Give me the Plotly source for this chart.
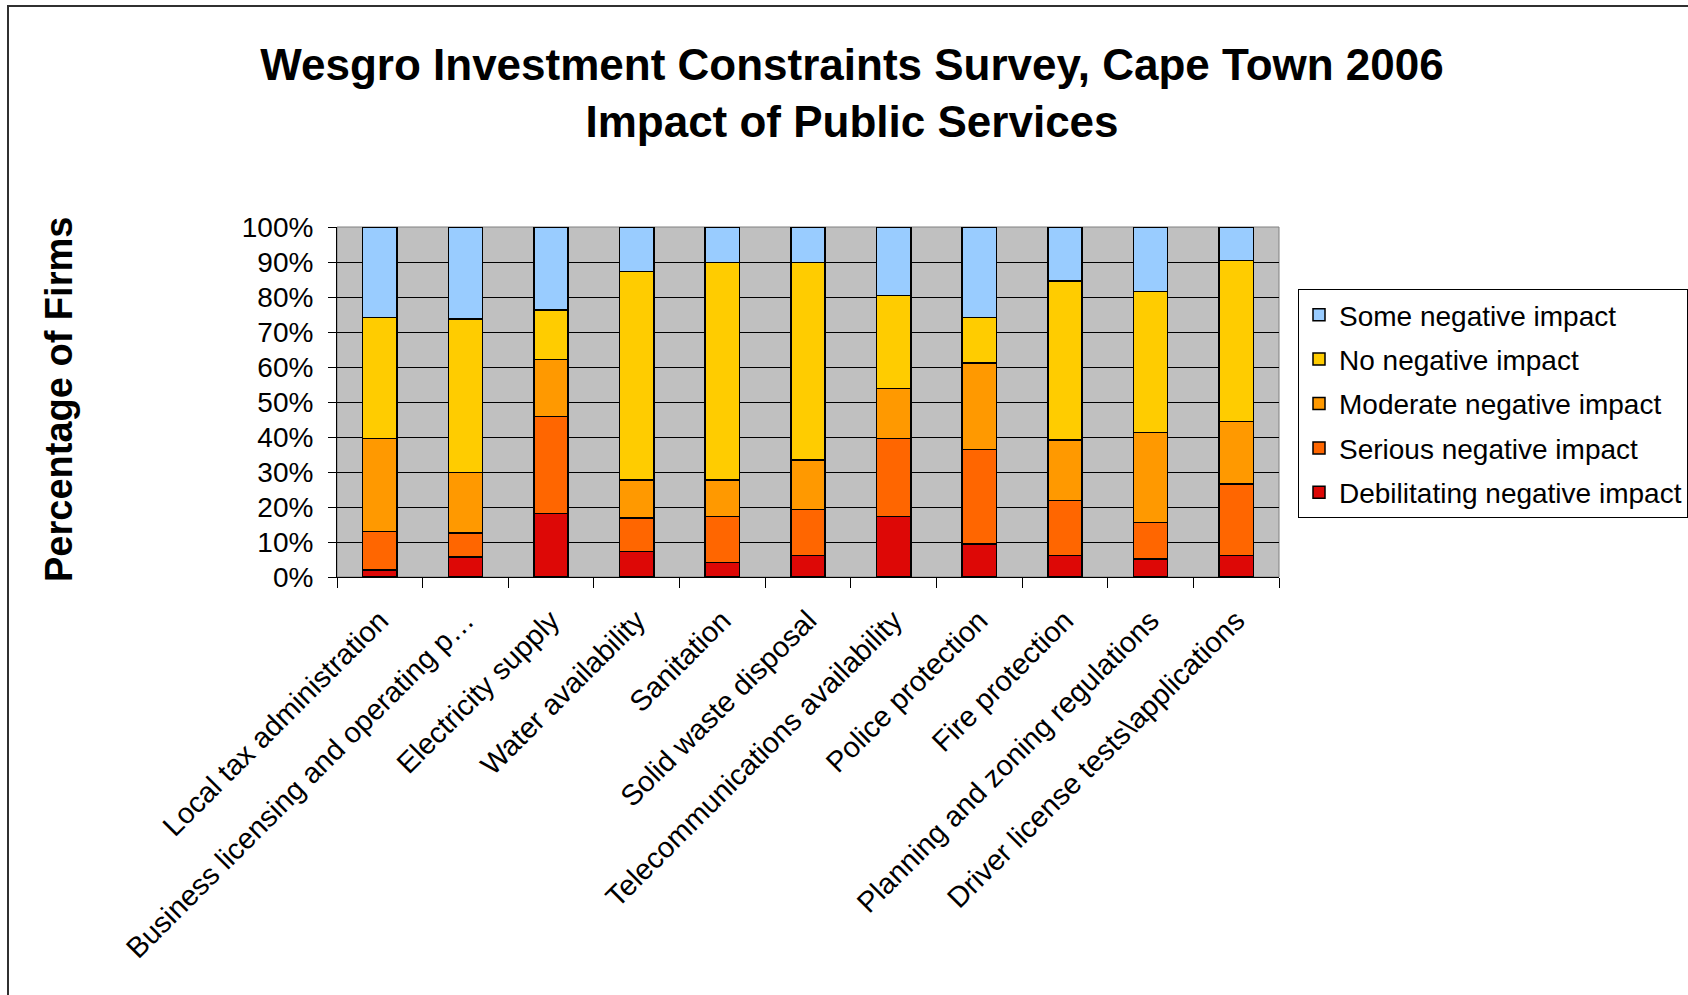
import plotly.graph_objects as go

# Survey categories (public services)
categories = [
    "Local tax administration",
    "Business licensing and operating p…",
    "Electricity supply",
    "Water availability",
    "Sanitation",
    "Solid waste disposal",
    "Telecommunications availability",
    "Police protection",
    "Fire protection",
    "Planning and zoning regulations",
    "Driver license tests\\applications",
]

# Share of firms (%) per impact level, stacked bottom to top
debilitating = [2.0, 5.7, 18.2, 7.3, 4.1, 6.2, 17.3, 9.4, 6.2, 5.2, 6.2]
serious = [11.0, 6.9, 27.7, 9.5, 13.2, 13.1, 22.3, 27.1, 15.7, 10.4, 20.4]
moderate = [26.6, 17.2, 16.3, 10.9, 10.4, 14.2, 14.3, 24.7, 17.3, 25.7, 17.9]
no_negative = [34.6, 43.9, 14.1, 59.6, 62.2, 56.4, 26.5, 13.0, 45.4, 40.3, 45.9]
some_negative = [25.8, 26.3, 23.7, 12.7, 10.1, 10.1, 19.6, 25.8, 15.4, 18.4, 9.6]

# (name, values, colour, legend rank: top of the legend first)
series = [
    ("Debilitating negative impact", debilitating, "#DD0806", 5),
    ("Serious negative impact", serious, "#FF6600", 4),
    ("Moderate negative impact", moderate, "#FF9900", 3),
    ("No negative impact", no_negative, "#FFCC00", 2),
    ("Some negative impact", some_negative, "#99CCFF", 1),
]

FONT = "Liberation Sans, Arial, sans-serif"

fig = go.Figure()
for name, vals, color, rank in series:
    fig.add_trace(go.Bar(
        x=categories, y=vals, name=name, legendgroup=name, legendrank=rank,
        marker=dict(color=color, line=dict(color="#000000", width=1.5)),
    ))

W, H = 1688, 995
L, R, T, B = 337, 1688 - 1279, 227, 995 - 577
pw, ph = W - L - R, H - T - B


def px_x(p):
    return (p - L) / pw


def px_y(p):
    return (H - B - p) / ph


fig.update_layout(
    width=W, height=H,
    margin=dict(l=L, r=R, t=T, b=B, autoexpand=False),
    paper_bgcolor="white",
    plot_bgcolor="#C0C0C0",
    barmode="stack",
    bargap=0.6,
    font=dict(family=FONT, size=28, color="black"),
    title=dict(
        text="<b>Wesgro Investment Constraints Survey, Cape Town 2006<br>Impact of Public Services</b>",
        font=dict(family=FONT, size=44, color="black"),
        x=852 / W, xanchor="center",
        y=1 - 80 / H, yanchor="middle", yref="container",
    ),
    showlegend=True,
    legend=dict(
        x=px_x(1298), xanchor="left",
        y=px_y(289), yanchor="top",
        traceorder="grouped",
        tracegroupgap=5,
        bgcolor="white",
        bordercolor="black", borderwidth=1,
        font=dict(family=FONT, size=28, color="black"),
    ),
    xaxis=dict(
        tickangle=-45,
        ticks="outside", tickson="boundaries", ticklen=10,
        tickcolor="black", tickwidth=1,
        ticklabelstandoff=14,
        showline=True, linecolor="black", linewidth=1,
        showgrid=False,
        tickfont=dict(family=FONT, size=29, color="black"),
    ),
    yaxis=dict(
        range=[0, 100], dtick=10, ticksuffix="%",
        ticks="outside", ticklen=8, tickcolor="black", tickwidth=1,
        ticklabelstandoff=9,
        showline=True, linecolor="black", linewidth=1,
        showgrid=True, gridcolor="#000000", gridwidth=1,
        zeroline=False,
        tickfont=dict(family=FONT, size=28, color="black"),
    ),
    annotations=[
        dict(
            text="<b>Percentage of Firms</b>", textangle=-90,
            xref="paper", yref="paper",
            x=px_x(59), y=px_y(400),
            xanchor="center", yanchor="middle", showarrow=False,
            font=dict(family=FONT, size=38, color="black"),
        )
    ],
    shapes=[
        # plot-area frame
        dict(type="rect", xref="paper", yref="paper", x0=0, x1=1, y0=0, y1=1,
             line=dict(color="#808080", width=1), layer="between"),
        # outer chart border
        dict(type="rect", xref="paper", yref="paper",
             x0=px_x(8), x1=px_x(1720), y0=px_y(1020), y1=px_y(6),
             line=dict(color="#303030", width=2), layer="above"),
    ],
)

fig.write_html("out.html")
